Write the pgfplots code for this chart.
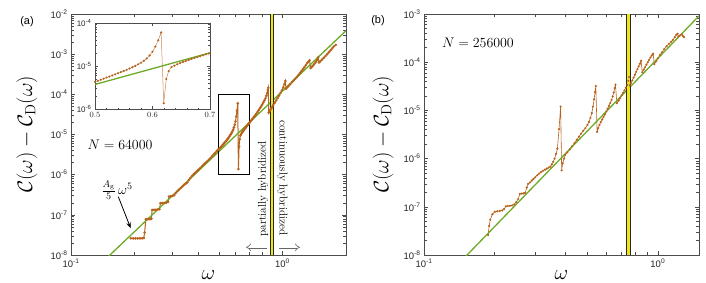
\RequirePackage{fix-cm}
\documentclass[border=0pt]{standalone}
\usepackage{fontspec}
\usepackage{pgfplots}
\usepackage{pgfplotstable}
\pgfplotsset{compat=1.18}
\usetikzlibrary{arrows.meta}
\newfontfamily\arial{Liberation Sans}
\definecolor{brn}{RGB}{184,98,28}
\definecolor{grn}{RGB}{110,170,40}
\definecolor{yel}{RGB}{240,230,20}

\pgfplotstableread{
w C
0.192 2.6e-8
0.197 2.6e-8
0.202 2.6e-8
0.207 2.6e-8
0.212 2.6e-8
0.217 2.6e-8
0.221 2.65e-8
0.223 3.6e-8
0.226 7.8e-8
0.230 7.8e-8
0.234 7.8e-8
0.238 7.9e-8
0.240 8.0e-8
0.242 1.33e-7
0.247 1.33e-7
0.252 1.34e-7
0.257 1.35e-7
0.262 1.38e-7
0.265 1.95e-7
0.270 1.96e-7
0.276 1.97e-7
0.282 2.0e-7
0.288 2.1e-7
0.291 2.85e-7
0.296 2.9e-7
0.302 2.95e-7
0.308 3.1e-7
0.313 3.5e-7
0.319 3.9e-7
0.325 4.3e-7
0.331 4.7e-7
0.337 5.1e-7
0.343 5.6e-7
0.349 6.0e-7
0.355 6.4e-7
0.361 7.4e-7
0.367 8.3e-7
0.373 9.2e-7
0.380 1.02e-6
0.387 1.12e-6
0.394 1.22e-6
0.401 1.33e-6
0.409 1.47e-6
0.417 1.63e-6
0.425 1.8e-6
0.433 1.97e-6
0.441 2.15e-6
0.449 2.37e-6
0.457 2.6e-6
0.465 2.88e-6
0.473 3.2e-6
0.481 3.5e-6
0.489 3.85e-6
0.495 4.1e-6
0.500 4.31e-6
0.505 4.55e-6
0.510 4.82e-6
0.515 5.09e-6
0.520 5.40e-6
0.525 5.71e-6
0.530 6.04e-6
0.535 6.41e-6
0.540 6.79e-6
0.545 7.21e-6
0.550 7.67e-6
0.555 8.17e-6
0.560 8.73e-6
0.565 9.35e-6
0.570 1.007e-5
0.575 1.092e-5
0.580 1.194e-5
0.585 1.321e-5
0.590 1.493e-5
0.595 1.749e-5
0.600 2.14e-5
0.605 2.81e-5
0.610 3.95e-5
0.615 5.94e-5
0.6195 1.38e-6
0.624 5.0e-6
0.628 7.6e-6
0.633 9.48e-6
0.638 1.021e-5
0.643 1.094e-5
0.648 1.164e-5
0.653 1.236e-5
0.658 1.306e-5
0.663 1.380e-5
0.668 1.452e-5
0.673 1.528e-5
0.678 1.607e-5
0.683 1.687e-5
0.688 1.770e-5
0.693 1.858e-5
0.698 1.945e-5
0.703 2.04e-5
0.712 2.25e-5
0.722 2.45e-5
0.732 2.7e-5
0.742 2.95e-5
0.752 3.25e-5
0.762 3.6e-5
0.772 4.0e-5
0.782 4.45e-5
0.792 4.95e-5
0.802 5.5e-5
0.812 6.2e-5
0.822 7.0e-5
0.832 8.0e-5
0.840 9.2e-5
0.847 1.07e-4
0.853 1.28e-4
0.858 1.45e-4
0.862 3.5e-5
0.868 3.8e-5
0.876 4.1e-5
0.885 4.5e-5
0.895 4.8e-5
0.905 5.4e-5
0.920 6.2e-5
0.935 7.1e-5
0.950 8.1e-5
0.965 9.3e-5
0.980 1.08e-4
0.995 1.26e-4
1.010 1.5e-4
1.022 1.8e-4
1.033 2.15e-4
1.040 1.38e-4
1.055 1.5e-4
1.070 1.62e-4
1.090 1.8e-4
1.110 2.0e-4
1.130 2.2e-4
1.150 2.45e-4
1.170 2.7e-4
1.190 3.0e-4
1.210 3.35e-4
1.230 3.75e-4
1.250 4.2e-4
1.270 4.7e-4
1.290 5.3e-4
1.310 6.0e-4
1.330 6.6e-4
1.345 7.0e-4
1.360 4.5e-4
1.380 4.9e-4
1.400 5.3e-4
1.420 5.8e-4
1.440 6.4e-4
1.460 7.2e-4
1.475 8.2e-4
1.490 6.2e-4
1.510 6.6e-4
1.540 7.3e-4
1.570 8.1e-4
1.600 9.0e-4
1.630 1.0e-3
1.660 1.12e-3
1.690 1.25e-3
1.720 1.4e-3
1.750 1.55e-3
1.790 1.7e-3
}\dataA

\pgfplotstableread{
w C
0.188 2.6e-8
0.190 4.0e-8
0.192 5.4e-8
0.196 7.0e-8
0.201 7.9e-8
0.206 8.1e-8
0.211 8.2e-8
0.216 8.4e-8
0.220 9.0e-8
0.224 1.02e-7
0.228 1.04e-7
0.233 1.05e-7
0.238 1.07e-7
0.243 1.12e-7
0.248 1.25e-7
0.253 1.45e-7
0.257 1.85e-7
0.262 1.88e-7
0.267 1.90e-7
0.271 1.95e-7
0.275 2.5e-7
0.279 3.0e-7
0.284 3.2e-7
0.289 3.5e-7
0.294 3.8e-7
0.299 4.1e-7
0.305 4.5e-7
0.311 4.9e-7
0.317 5.3e-7
0.323 5.6e-7
0.329 5.9e-7
0.335 6.2e-7
0.341 6.5e-7
0.347 6.8e-7
0.352 7.6e-7
0.357 8.6e-7
0.362 1.0e-6
0.367 1.25e-6
0.372 1.6e-6
0.378 4.1e-6
0.384 1.2e-5
0.388 5.7e-7
0.392 8.0e-7
0.397 1.0e-6
0.402 1.2e-6
0.410 1.35e-6
0.420 1.55e-6
0.430 1.8e-6
0.440 2.1e-6
0.450 2.45e-6
0.460 2.85e-6
0.470 3.3e-6
0.480 3.8e-6
0.490 4.3e-6
0.500 5.0e-6
0.508 5.8e-6
0.515 7.0e-6
0.522 8.8e-6
0.528 1.2e-5
0.534 1.7e-5
0.539 2.4e-5
0.543 3.2e-5
0.550 3.6e-6
0.556 4.3e-6
0.563 5.0e-6
0.570 5.7e-6
0.578 6.5e-6
0.586 7.3e-6
0.594 8.3e-6
0.602 9.5e-6
0.610 1.08e-5
0.618 1.24e-5
0.626 1.42e-5
0.634 1.65e-5
0.641 1.95e-5
0.648 2.35e-5
0.654 2.9e-5
0.659 3.4e-5
0.668 1.41e-5
0.680 1.6e-5
0.690 1.8e-5
0.700 2.05e-5
0.710 2.3e-5
0.720 2.6e-5
0.730 2.95e-5
0.740 3.4e-5
0.748 4.1e-5
0.754 4.9e-5
0.759 3.3e-5
0.768 3.7e-5
0.778 4.2e-5
0.788 4.8e-5
0.798 5.5e-5
0.808 6.3e-5
0.818 7.2e-5
0.828 8.2e-5
0.838 9.3e-5
0.848 1.07e-4
0.858 6.2e-5
0.870 7.0e-5
0.882 7.9e-5
0.894 8.9e-5
0.906 1.0e-4
0.918 1.12e-4
0.930 1.25e-4
0.942 1.38e-4
0.955 1.5e-4
0.966 9.1e-5
0.985 1.05e-4
1.000 1.2e-4
1.020 1.4e-4
1.040 1.6e-4
1.065 1.87e-4
1.090 2.15e-4
1.115 2.4e-4
1.140 2.65e-4
1.160 2.9e-4
1.180 3.3e-4
1.200 3.7e-4
1.215 3.9e-4
1.225 3.4e-4
1.245 3.6e-4
1.265 3.8e-4
1.280 3.5e-4
1.295 3.3e-4
}\dataB

\newcommand{\logticklabel}{10\textsuperscript{\pgfmathparse{int(round(\tick/2.302585093))}\pgfmathresult}}

\begin{document}
\begin{tikzpicture}
\useasboundingbox (0,0) rectangle (706bp,283bp);

% ---------- panel (a)
\begin{axis}[at={(71bp,28bp)}, anchor=south west, width=275bp, height=241bp, scale only axis,
  xmode=log, ymode=log,
  xmin=0.1, xmax=2, ymin=1e-8, ymax=1e-2,
  xtick={0.1,1},
  ytick={1e-8,1e-7,1e-6,1e-5,1e-4,1e-3,1e-2},
  xticklabel={\logticklabel}, yticklabel={\logticklabel},
  tick align=inside,
  axis line style={black!70},
  every tick/.style={black!70},
  tick label style={font=\arial\fontsize{9.5}{10}\selectfont, text=black!85},
  xlabel={$\omega$},
  ylabel={$\mathcal{C}(\omega)-\mathcal{C}_{\mathrm{D}}(\omega)$},
  every axis x label/.style={at={(axis description cs:0.5,-0.083)}, anchor=center, font=\fontsize{21}{24}\selectfont},
  every axis y label/.style={at={(axis description cs:-0.16,0.5)}, rotate=90, anchor=center, font=\fontsize{21}{24}\selectfont},
]
\addplot[brn, line width=1bp, mark=*, mark size=0.75bp, mark options={fill=brn, draw=brn}] table[x=w,y=C] {\dataA};
\addplot[grn, line width=1.3bp] coordinates {(0.1,1.2e-9) (2,3.84e-3)};
\addplot[black!85, line width=4.4bp] coordinates {(0.894,1e-8) (0.894,1e-2)};
\addplot[yel, line width=2.4bp] coordinates {(0.894,1e-8) (0.894,1e-2)};
\draw[black, line width=0.6bp] (axis cs:0.5,1e-6) rectangle (axis cs:0.7,1e-4);
\end{axis}

% ---------- inset
\begin{axis}[at={(95bp,173.7bp)}, anchor=south west, width=115bp, height=86.6bp, scale only axis,
  ymode=log,
  xmin=0.5, xmax=0.7, ymin=1e-6, ymax=1e-4,
  xtick={0.5,0.6,0.7}, minor x tick num=4,
  ytick={1e-6,1e-5,1e-4},
  yticklabel={\logticklabel},
  xticklabel style={/pgf/number format/fixed, /pgf/number format/precision=1},
  tick align=inside,
  axis line style={black!70},
  every tick/.style={black!70},
  tick label style={font=\arial\fontsize{8}{9}\selectfont, text=black!85},
  axis background/.style={fill=white},
  major tick length=3bp, minor tick length=1.8bp,
]
\addplot[brn!75, line width=0.5bp, mark=*, mark size=0.8bp, mark options={fill=brn, draw=brn}, restrict x to domain=0.49:0.71] table[x=w,y=C] {\dataA};
\addplot[grn, line width=1.3bp] coordinates {(0.5,3.75e-6) (0.7,2.017e-5)};
\end{axis}

% ---------- panel (b)
\begin{axis}[at={(424bp,28bp)}, anchor=south west, width=275bp, height=241bp, scale only axis,
  xmode=log, ymode=log,
  xmin=0.1, xmax=1.5, ymin=1e-8, ymax=1e-3,
  xtick={0.1,1},
  ytick={1e-8,1e-7,1e-6,1e-5,1e-4,1e-3},
  xticklabel={\logticklabel}, yticklabel={\logticklabel},
  tick align=inside,
  axis line style={black!70},
  every tick/.style={black!70},
  tick label style={font=\arial\fontsize{9.5}{10}\selectfont, text=black!85},
  xlabel={$\omega$},
  ylabel={$\mathcal{C}(\omega)-\mathcal{C}_{\mathrm{D}}(\omega)$},
  every axis x label/.style={at={(axis description cs:0.5,-0.083)}, anchor=center, font=\fontsize{21}{24}\selectfont},
  every axis y label/.style={at={(axis description cs:-0.149,0.5)}, rotate=90, anchor=center, font=\fontsize{21}{24}\selectfont},
]
\addplot[brn, line width=0.6bp, mark=*, mark size=0.75bp, mark options={fill=brn, draw=brn}] table[x=w,y=C] {\dataB};
\addplot[grn, line width=1.3bp] coordinates {(0.1,1.2e-9) (1.5,9.1125e-4)};
\addplot[black!85, line width=4.4bp] coordinates {(0.75,1e-8) (0.75,1e-3)};
\addplot[yel, line width=2.4bp] coordinates {(0.75,1e-8) (0.75,1e-3)};
\end{axis}

% ---------- annotations
\node[font=\arial\fontsize{11}{13}\selectfont] at (27bp,261.3bp) {(a)};
\node[font=\arial\fontsize{11}{13}\selectfont] at (378bp,262bp) {(b)};
\node[font=\fontsize{14}{16}\selectfont] at (120bp,138bp) {$N=64000$};
\node[font=\fontsize{14}{16}\selectfont] at (478bp,240.3bp) {$N=256000$};
\node[font=\fontsize{14}{16}\selectfont] at (117bp,93bp) {${\textstyle\frac{A_{\mathrm{g}}}{5}}\,\omega^{5}$};
\draw[black, line width=0.8bp, -{Stealth[length=6bp,width=4.5bp]}] (118.3bp,86.3bp) -- (130.7bp,54.7bp);
\node[rotate=90, font=\fontsize{11.4}{13}\selectfont] at (263bp,94bp) {partially hybridized};
\node[rotate=-90, font=\fontsize{11.4}{13}\selectfont] at (282.5bp,105bp) {continuously hybridized};
\draw[black!60, line width=0.6bp, double distance=2bp, -{Implies}] (267bp,35.7bp) -- (246bp,35.7bp);
\draw[black!60, line width=0.6bp, double distance=2bp, -{Implies}] (279bp,35.7bp) -- (300bp,35.7bp);
\end{tikzpicture}
\end{document}
